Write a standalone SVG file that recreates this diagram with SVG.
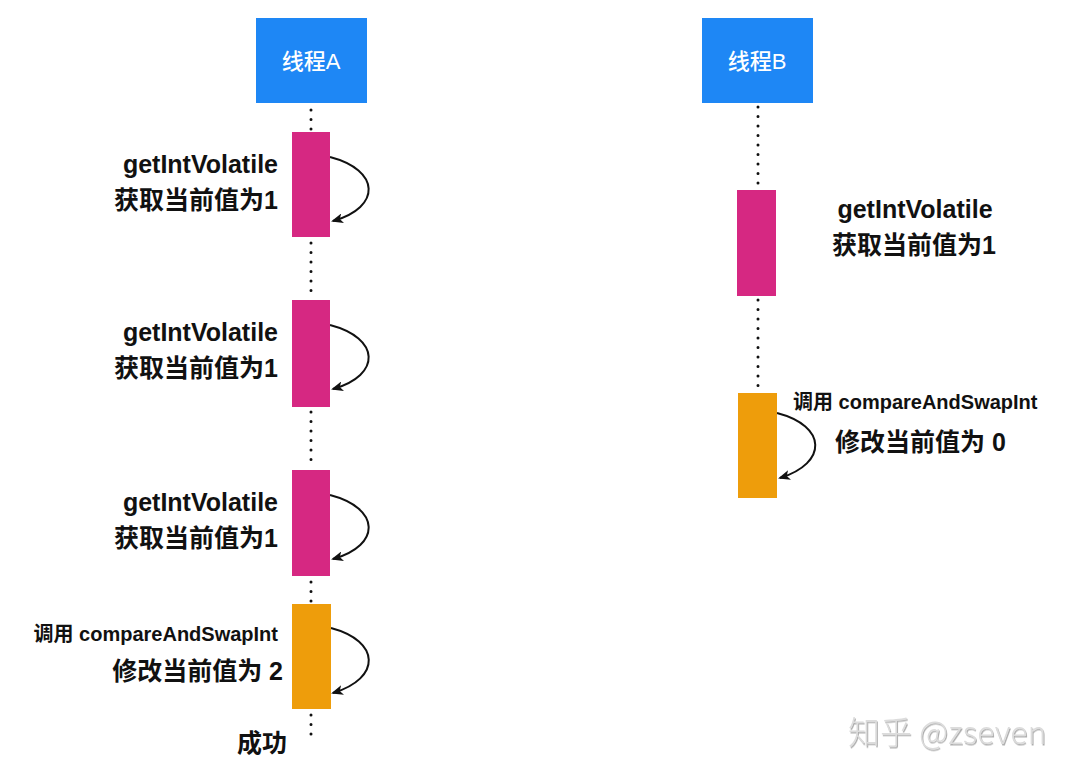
<svg xmlns="http://www.w3.org/2000/svg" width="1080" height="778" viewBox="0 0 1080 778">
<defs>
<style>
.head{fill:#1E87F5}
.pink{fill:#D62882}
.orange{fill:#EE9D0B}
.life{stroke:#111;stroke-width:3;stroke-linecap:round;stroke-dasharray:0 9.5;fill:none}
.arc{stroke:#111;stroke-width:2;fill:none;marker-end:url(#ah)}
.ht{font-family:"Liberation Sans","Noto Sans CJK SC",sans-serif;font-size:22px;font-weight:500;fill:#fff;text-anchor:middle}
.lb{font-family:"Liberation Sans","Noto Sans CJK SC",sans-serif;font-weight:bold;font-size:25px;fill:#111}
.sm{font-family:"Liberation Sans","Noto Sans CJK SC",sans-serif;font-weight:bold;font-size:20px;fill:#111}
.r{text-anchor:end}
.c{text-anchor:middle}
.wm{font-family:"Noto Sans CJK SC","Liberation Sans",sans-serif;font-weight:300;font-size:32px;fill:#dcdcdc;filter:url(#sh)}
</style>
<marker id="ah" viewBox="0 0 12 10" refX="10" refY="5" markerWidth="12" markerHeight="10" markerUnits="userSpaceOnUse" orient="auto">
<path d="M0,0 L12,5 L0,10 L3,5 Z" fill="#111"/>
</marker>
<filter id="sh" x="-10%" y="-20%" width="120%" height="140%">
<feDropShadow dx="1" dy="1.5" stdDeviation="0.6" flood-color="#9a9a9a" flood-opacity="0.8"/>
</filter>
</defs>

<g id="connectors">
<line class="life" x1="311" y1="110" x2="311" y2="130"/>
<line class="life" x1="311" y1="243" x2="311" y2="298"/>
<line class="life" x1="311" y1="412" x2="311" y2="468"/>
<line class="life" x1="311" y1="582" x2="311" y2="602"/>
<line class="life" x1="311" y1="715" x2="311" y2="742"/>
<line class="life" x1="758" y1="107" x2="758" y2="186"/>
<line class="life" x1="758" y1="300" x2="758" y2="390"/>
<path class="arc" d="M330,157 C380,170 382,207 333,221"/>
<path class="arc" d="M330,325 C380,338 382,375 333,389"/>
<path class="arc" d="M330,495 C380,508 382,545 333,559"/>
<path class="arc" d="M331,628 C380,641 382,678 333,693"/>
<path class="arc" d="M777,413 C827,426 828,463 780,478"/>
</g>

<g id="threadA">
<rect class="head" x="256" y="18" width="111" height="85"/>
<text class="ht" x="311" y="69">线程A</text>
</g>
<g id="threadB">
<rect class="head" x="702" y="18" width="111" height="85"/>
<text class="ht" x="757" y="69">线程B</text>
</g>

<g id="a1">
<rect class="pink" x="292" y="132" width="38" height="105"/>
<text class="lb r" x="278" y="173">getIntVolatile</text>
<text class="lb r" x="278" y="209">获取当前值为1</text>
</g>
<g id="a2">
<rect class="pink" x="292" y="300" width="38" height="107"/>
<text class="lb r" x="278" y="341">getIntVolatile</text>
<text class="lb r" x="278" y="377">获取当前值为1</text>
</g>
<g id="a3">
<rect class="pink" x="292" y="470" width="38" height="106"/>
<text class="lb r" x="278" y="511">getIntVolatile</text>
<text class="lb r" x="278" y="547">获取当前值为1</text>
</g>
<g id="a4">
<rect class="orange" x="292" y="604" width="39" height="105"/>
<text class="sm r" x="278" y="641">调用 compareAndSwapInt</text>
<text class="lb r" x="283" y="680">修改当前值为 2</text>
</g>
<g id="a5">
<text class="lb r" x="287" y="752">成功</text>
</g>

<g id="b1">
<rect class="pink" x="737" y="190" width="39" height="106"/>
<text class="lb c" x="915" y="218">getIntVolatile</text>
<text class="lb c" x="914" y="254">获取当前值为1</text>
</g>
<g id="b2">
<rect class="orange" x="738" y="393" width="39" height="105"/>
<text class="sm" x="793" y="409">调用 compareAndSwapInt</text>
<text class="lb" x="835" y="451">修改当前值为 0</text>
</g>

<text class="wm" x="848" y="744">知乎 @zseven</text>
</svg>
